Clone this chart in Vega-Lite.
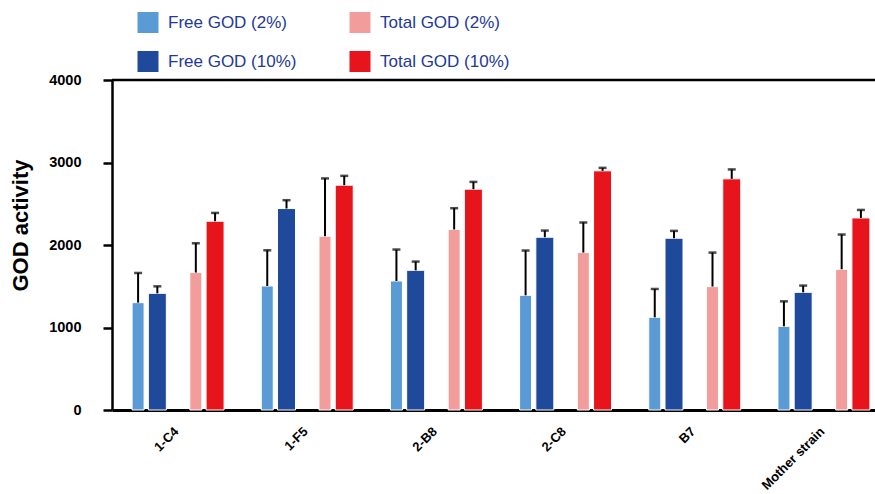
{
  "$schema": "https://vega.github.io/schema/vega-lite/v6.json",
  "width": 763,
  "height": 330,
  "autosize": {"type": "none"},
  "padding": {"left": 112, "top": 80, "right": 0, "bottom": 84},
  "background": "white",
  "config": {
    "view": {"stroke": null},
    "font": "Liberation Sans",
    "axis": {"grid": false, "domainColor": "black", "tickColor": "black", "labelColor": "black", "titleColor": "black"}
  },
  "data": {
    "values": [
      {"strain": "1-C4", "series": "Free GOD (2%)", "value": 1301, "upper": 1661},
      {"strain": "1-C4", "series": "Free GOD (10%)", "value": 1414, "upper": 1499},
      {"strain": "1-C4", "series": "Total GOD (2%)", "value": 1666, "upper": 2021},
      {"strain": "1-C4", "series": "Total GOD (10%)", "value": 2288, "upper": 2389},
      {"strain": "1-F5", "series": "Free GOD (2%)", "value": 1503, "upper": 1936},
      {"strain": "1-F5", "series": "Free GOD (10%)", "value": 2442, "upper": 2543},
      {"strain": "1-F5", "series": "Total GOD (2%)", "value": 2106, "upper": 2807},
      {"strain": "1-F5", "series": "Total GOD (10%)", "value": 2725, "upper": 2838},
      {"strain": "2-B8", "series": "Free GOD (2%)", "value": 1564, "upper": 1945},
      {"strain": "2-B8", "series": "Free GOD (10%)", "value": 1693, "upper": 1799},
      {"strain": "2-B8", "series": "Total GOD (2%)", "value": 2188, "upper": 2446},
      {"strain": "2-B8", "series": "Total GOD (10%)", "value": 2677, "upper": 2765},
      {"strain": "2-C8", "series": "Free GOD (2%)", "value": 1390, "upper": 1933},
      {"strain": "2-C8", "series": "Free GOD (10%)", "value": 2094, "upper": 2175},
      {"strain": "2-C8", "series": "Total GOD (2%)", "value": 1908, "upper": 2273},
      {"strain": "2-C8", "series": "Total GOD (10%)", "value": 2899, "upper": 2935},
      {"strain": "B7", "series": "Free GOD (2%)", "value": 1123, "upper": 1467},
      {"strain": "B7", "series": "Free GOD (10%)", "value": 2082, "upper": 2171},
      {"strain": "B7", "series": "Total GOD (2%)", "value": 1496, "upper": 1908},
      {"strain": "B7", "series": "Total GOD (10%)", "value": 2802, "upper": 2916},
      {"strain": "Mother strain", "series": "Free GOD (2%)", "value": 1014, "upper": 1317},
      {"strain": "Mother strain", "series": "Free GOD (10%)", "value": 1426, "upper": 1508},
      {"strain": "Mother strain", "series": "Total GOD (2%)", "value": 1706, "upper": 2127},
      {"strain": "Mother strain", "series": "Total GOD (10%)", "value": 2328, "upper": 2425}
    ]
  },
  "layer": [
    {
      "data": {"values": [{"top": 4000}]},
      "mark": {"type": "rule", "color": "black", "strokeWidth": 2.5},
      "encoding": {
        "y": {"field": "top", "type": "quantitative", "scale": {"domain": [0, 4000], "nice": false}}
      }
    },
    {
      "transform": [{"filter": "indexof(datum.series, '(2%)') >= 0"}],
      "mark": {"type": "bar", "width": 12, "stroke": "white", "strokeWidth": 1},
      "encoding": {
        "x": {
          "field": "strain", "type": "nominal",
          "sort": ["1-C4", "1-F5", "2-B8", "2-C8", "B7", "Mother strain"],
          "scale": {"range": [0, 775], "paddingInner": 0.255, "paddingOuter": 0.1275},
          "axis": {
            "title": null, "ticks": false, "domainWidth": 3, "labelAngle": -45,
            "labelAlign": "right", "labelBaseline": "middle", "labelPadding": 19,
            "labelFontSize": 13, "labelFontWeight": "bold"
          }
        },
        "xOffset": {
          "field": "series", "type": "nominal",
          "scale": {"domain": ["Free GOD (2%)", "Free GOD (10%)", "spacer", "Total GOD (2%)", "Total GOD (10%)"], "paddingInner": 0, "paddingOuter": 0}
        },
        "y": {
          "field": "value", "type": "quantitative",
          "scale": {"domain": [0, 4000], "nice": false},
          "axis": {
            "title": "GOD activity", "values": [0, 1000, 2000, 3000, 4000], "format": "d",
            "domainWidth": 2.5, "tickWidth": 2.5, "tickSize": 9,
            "labelFontSize": 14.5, "labelFontWeight": "bold", "labelPadding": 22,
            "titleFontSize": 22, "titleFontWeight": "bold", "titleBaseline": "alphabetic",
            "titleX": -85, "titleY": 145, "titleAngle": -90
          }
        },
        "color": {
          "field": "series", "type": "nominal",
          "scale": {
            "domain": ["Free GOD (2%)", "Total GOD (2%)", "Free GOD (10%)", "Total GOD (10%)"],
            "range": ["#5B9BD5", "#F29C9C", "#1F4A9C", "#E8141C"]
          },
          "legend": {
            "orient": "none", "legendX": 25.5, "legendY": -68, "columns": 2, "direction": "horizontal",
            "title": null, "padding": 0, "symbolSize": 441, "symbolStrokeWidth": 0,
            "labelFontSize": 17, "labelColor": "#22399A", "labelOffset": 9.5,
            "rowPadding": 18, "columnPadding": 53,
            "encode": {
              "symbols": {
                "update": {
                  "shape": {"signal": "indexof(datum.value, '10%') >= 0 ? 'M-0.857,-1H0.857V1H-0.857Z' : 'M-0.857,-1H0.286V1H-0.857Z'"}
                }
              }
            }
          }
        }
      }
    },
    {
      "transform": [{"filter": "indexof(datum.series, '(10%)') >= 0"}],
      "mark": {"type": "bar", "width": 18, "stroke": "white", "strokeWidth": 1},
      "encoding": {
        "x": {"field": "strain", "type": "nominal", "sort": ["1-C4", "1-F5", "2-B8", "2-C8", "B7", "Mother strain"]},
        "xOffset": {"field": "series", "type": "nominal"},
        "y": {"field": "value", "type": "quantitative"},
        "color": {"field": "series", "type": "nominal"}
      }
    },
    {
      "mark": {"type": "rule", "color": "black", "strokeWidth": 2},
      "encoding": {
        "x": {"field": "strain", "type": "nominal", "sort": ["1-C4", "1-F5", "2-B8", "2-C8", "B7", "Mother strain"]},
        "xOffset": {"field": "series", "type": "nominal"},
        "y": {"field": "value", "type": "quantitative"},
        "y2": {"field": "upper"}
      }
    },
    {
      "mark": {"type": "tick", "color": "black", "size": 8, "thickness": 2.5},
      "encoding": {
        "x": {"field": "strain", "type": "nominal", "sort": ["1-C4", "1-F5", "2-B8", "2-C8", "B7", "Mother strain"]},
        "xOffset": {"field": "series", "type": "nominal"},
        "y": {"field": "upper", "type": "quantitative"}
      }
    }
  ]
}
